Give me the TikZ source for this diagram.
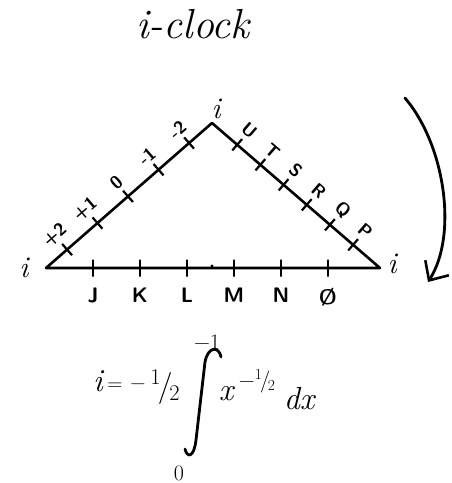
\documentclass[tikz,border=0pt]{standalone}
\usetikzlibrary{arrows.meta,calc}
\newcommand{\myhalf}{\raisebox{0.35em}{\scalebox{0.7}{1}}\kern-0.08em/\kern-0.1em\raisebox{-0.15em}{\scalebox{0.7}{2}}}
\begin{document}
\begin{tikzpicture}[x=1pt,y=-1pt,
  edge/.style={line width=2.6pt, line cap=round, line join=round},
  tickmk/.style={draw, line width=2.2pt, minimum width=0pt, minimum height=15pt, inner sep=0pt, sloped, shape=rectangle},
  btickmk/.style={draw, line width=2.2pt, minimum width=0pt, minimum height=17pt, inner sep=0pt, shape=rectangle},
  lab/.style={font=\fontsize{18}{18}\selectfont\sffamily\bfseries, inner sep=0pt, sloped},
  baselab/.style={font=\fontsize{21}{21}\selectfont\sffamily\bfseries, inner sep=0pt},
  vert/.style={font=\fontsize{30}{30}\selectfont\itshape, inner sep=0pt},
  mathf/.style={font=\fontsize{32}{32}\selectfont\itshape, inner sep=0pt},
  opf/.style={font=\fontsize{21}{21}\selectfont, inner sep=0pt},
  limf/.style={font=\fontsize{22}{22}\selectfont, inner sep=0pt},
  rotarrow/.style={line width=2.8pt, line cap=round, -{Straight Barb[length=15pt, width=28pt, line width=2.6pt]}},
 ]
\useasboundingbox (0,0) rectangle (452,483);
% title
\node[font=\fontsize{42}{42}\selectfont\itshape, inner sep=0pt] (title) at (193,24) {i-clock};
% triangle
\coordinate (L) at (46,268);
\coordinate (T) at (212,123);
\coordinate (R) at (380,268);
\draw[edge] (L) -- (T) -- (R) -- cycle;
% left side ticks and labels
\path (L) -- (T)
  foreach \p/\lbl [count=\i] in {0.127/+2, 0.310/+1, 0.494/0, 0.678/-1, 0.862/-2}
  { node[tickmk, pos=\p] (lt\i) {} node[lab, pos=\p, above=11pt] (ll\i) {\lbl} };
% right side ticks and labels
\path (T) -- (R)
  foreach \p/\lbl [count=\i] in {0.150/U, 0.288/T, 0.426/S, 0.564/R, 0.702/Q, 0.840/P}
  { node[tickmk, pos=\p] (rt\i) {} node[lab, pos=\p, above=12pt] (rl\i) {\lbl} };
% base ticks and labels
\path (L) -- (R)
  foreach \p/\lbl [count=\i] in {0.1407/J, 0.2814/K, 0.4221/L, 0.5628/M, 0.7035/N, 0.8442/\O}
  { node[btickmk, pos=\p] (bt\i) {} node[baselab, pos=\p, below=20pt] (bl\i) {\lbl} };
\fill (212,266) circle (1.7pt);
% vertex labels
\node[vert] (iL) at (24,268) {i};
\node[vert] (iT) at (216,109) {i};
\node[vert] (iR) at (392,264) {i};
% rotation arrow
\coordinate (a1) at (405,98);
\coordinate (a2) at (428,282);
\draw[rotarrow] (a1) .. controls (445,145) and (458,235) .. (a2);
% formula
\node[mathf] (fi) at (98,381) {i};
\node[opf] (feq) at (115,387) {=};
\node[opf] (fmin) at (138,387) {−};
\node[opf, font=\fontsize{32}{32}\selectfont] (fhalf) at (165,387) {\myhalf};
\draw[line width=2.8pt, line cap=round]
  (221,357) .. controls (219,346) and (208,346) .. (205,362)
  -- (196,440) .. controls (194,458) and (187,458) .. (185,449);
\node[limf] (fup) at (207,342) {−1};
\node[limf] (flo) at (179,473) {0};
\node[mathf] (fx) at (226,394) {x};
\node[limf] (fexp) at (257,381) {−\myhalf};
\node[mathf] (fdx) at (299,399) {dx};
\end{tikzpicture}
\end{document}
